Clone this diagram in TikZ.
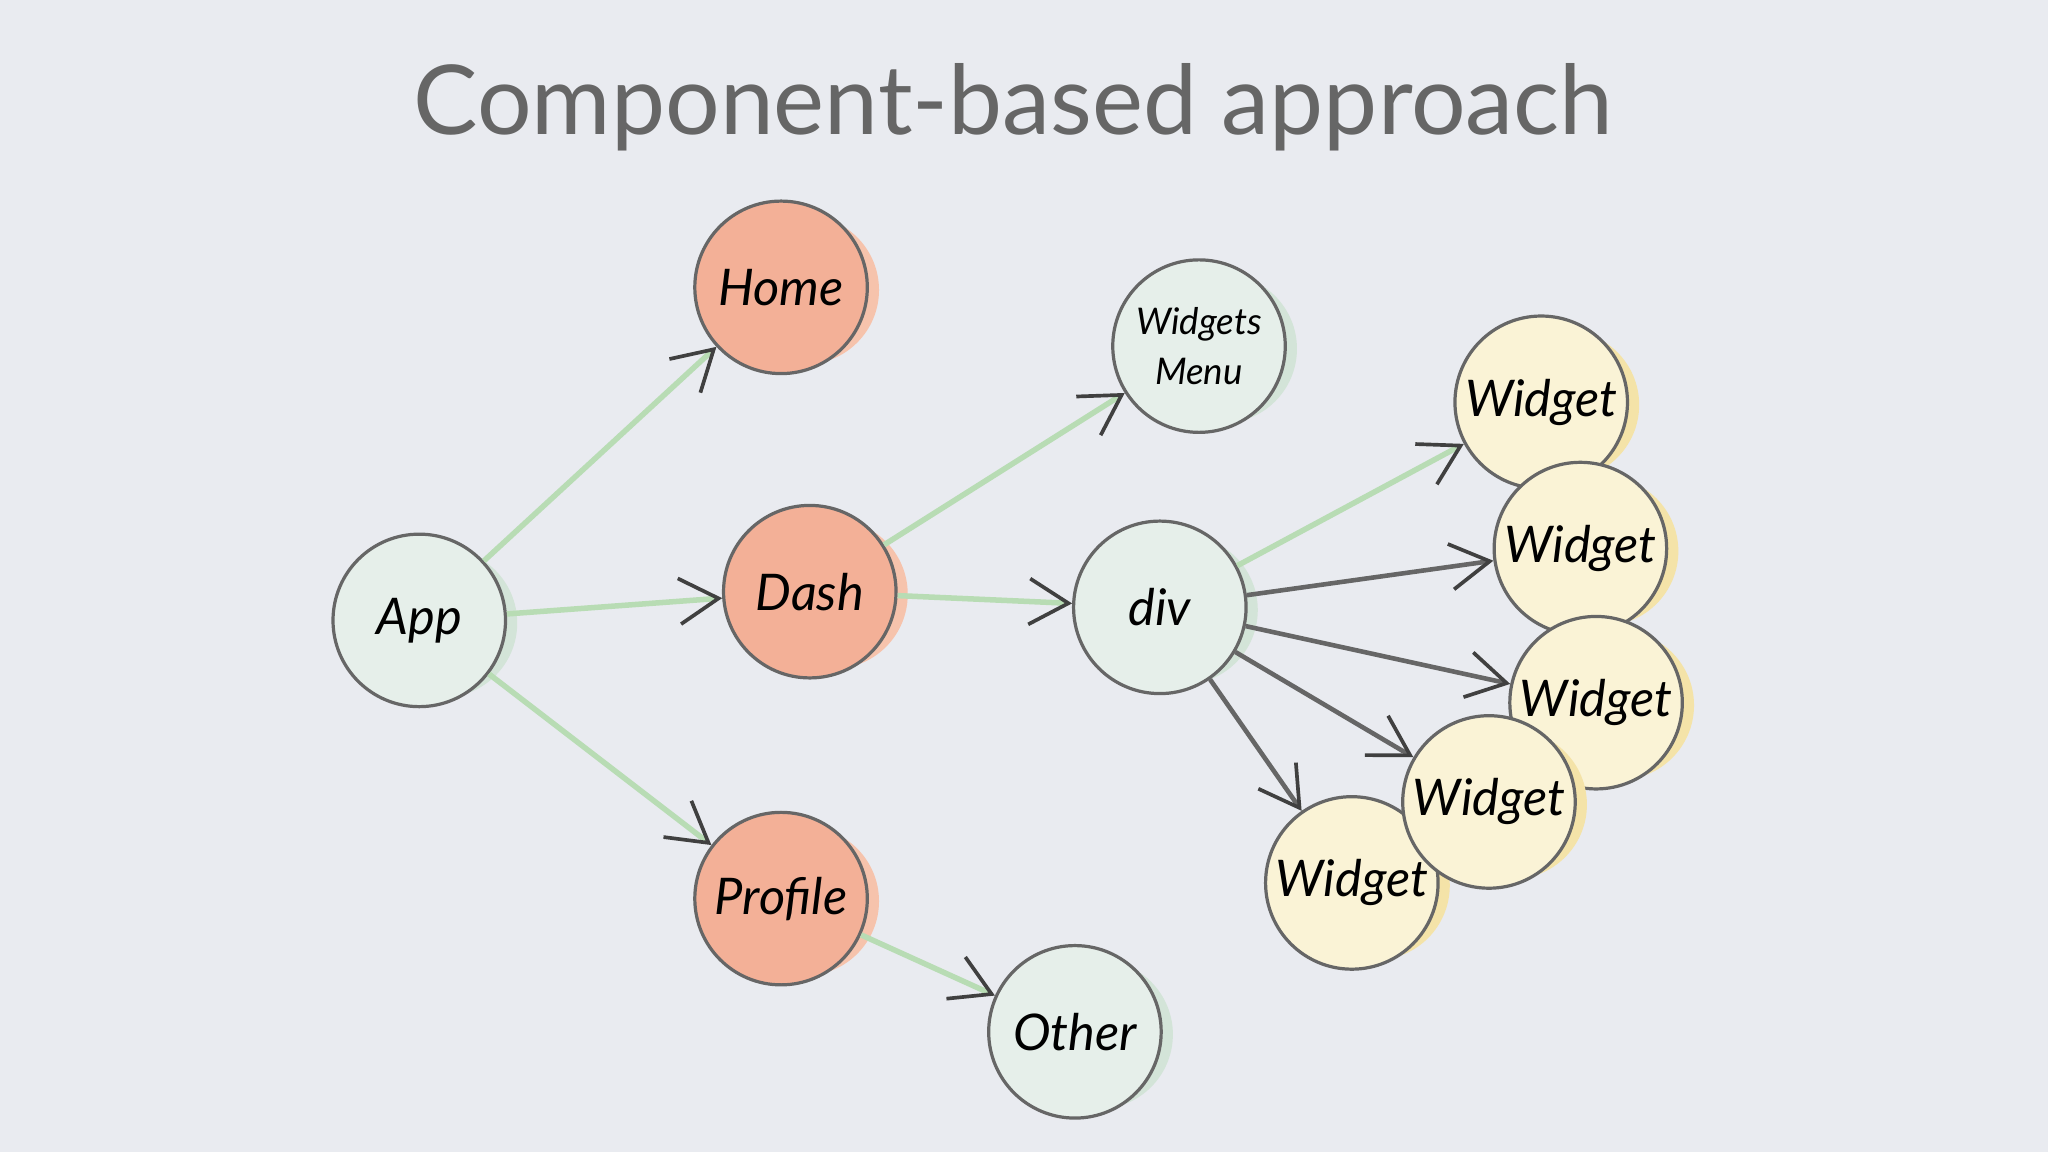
\documentclass[tikz,border=0pt]{standalone}
\usepackage{fontspec}
\setmainfont{Lato}
\usetikzlibrary{arrows.meta}
\definecolor{bg}{HTML}{E9EBF0}
\definecolor{og}{HTML}{F3B097}
\definecolor{ogs}{HTML}{F6C3AC}
\definecolor{gr}{HTML}{E6EFEA}
\definecolor{grs}{HTML}{D3E4D8}
\definecolor{yl}{HTML}{FAF3D6}
\definecolor{yls}{HTML}{F4E3A8}
\definecolor{ln}{HTML}{B8DCB4}
\begin{document}
\begin{tikzpicture}[x=0.01cm,y=-0.01cm,
  base/.style={circle,minimum size=1.32cm,inner sep=0pt,draw=gray!80!black,line width=0.7pt,font=\itshape\fontsize{11}{12}\selectfont,text=black},
  og/.style={base,fill=og},
  gr/.style={base,fill=gr},
  yl/.style={base,fill=yl},
  e/.style={draw=ln,line width=1.2pt,-{Straight Barb[length=3mm,width=3.5mm,line width=0.8pt,color=black!75]}},
  g/.style={draw=gray!80!black,line width=1pt,-{Straight Barb[length=3mm,width=3.5mm,line width=0.8pt,color=black!75]}}]
\fill[bg] (0,0) rectangle (1568,882);
\useasboundingbox (0,0) rectangle (1568,882);
\node[text=black!60,font=\fontsize{21}{24}\selectfont] (title) at (776,82) {Component-based approach};
\def\sh#1#2#3{\fill[#3] (#1+18,#2+2) circle (57);}
\sh{321}{475}{grs}\sh{598}{220}{ogs}\sh{620}{453}{ogs}\sh{598}{688}{ogs}\sh{823}{790}{grs}
\sh{918}{265}{grs}\sh{888}{465}{grs}
\node[gr] (app) at (321,475) {App};
\node[og] (home) at (598,220) {Home};
\node[og] (dash) at (620,453) {Dash};
\node[og] (prof) at (598,688) {Profile};
\node[gr] (oth) at (823,790) {Other};
\node[gr,align=center,font=\itshape\fontsize{8}{11}\selectfont] (wm) at (918,265) {Widgets\\Menu};
\node[gr] (div) at (888,465) {div};
\sh{1180}{308}{yls}\node[yl] (w1) at (1180,308) {Widget};
\sh{1210}{420}{yls}\node[yl] (w2) at (1210,420) {Widget};
\sh{1222}{538}{yls}\node[yl] (w3) at (1222,538) {Widget};
\sh{1035}{676}{yls}\node[yl] (w5) at (1035,676) {Widget};
\sh{1140}{614}{yls}\node[yl] (w4) at (1140,614) {Widget};
\draw[e] (app) -- (home);
\draw[e] (app) -- (dash);
\draw[e] (app) -- (prof);
\draw[e] (dash) -- (wm);
\draw[e] (dash) -- (div);
\draw[e] (prof) -- (oth);
\draw[e] (div) -- (w1);
\draw[g] (div) -- (w2);
\draw[g] (div) -- (w3);
\draw[g] (div) -- (w4);
\draw[g] (div) -- (w5);
\end{tikzpicture}
\end{document}
